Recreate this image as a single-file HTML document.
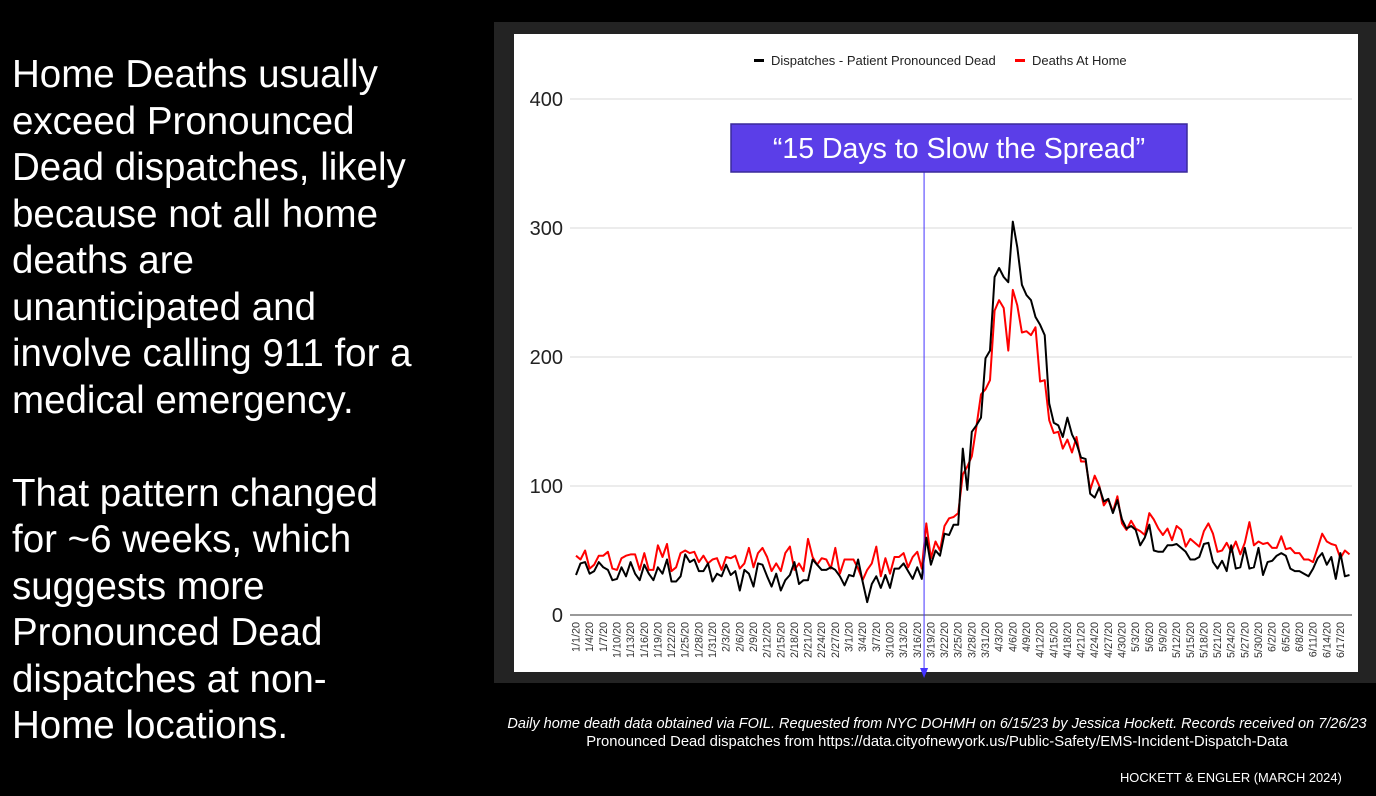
<!DOCTYPE html>
<html><head><meta charset="utf-8"><style>
html,body{margin:0;padding:0;background:#000;width:1376px;height:796px;overflow:hidden;font-family:"Liberation Sans",Arial,sans-serif}
#left{position:absolute;left:12px;top:52px;color:#fff;font-size:38.5px;line-height:46.5px;width:480px;white-space:nowrap}
#panel{position:absolute;left:494px;top:22px;width:882px;height:661px;background:#232323}
#chartsvg{position:absolute;left:0;top:0}
.foot{position:absolute;color:#fff;text-align:center;width:960px;left:457px;white-space:nowrap}
</style></head><body>
<div id="left">Home Deaths usually<br>exceed Pronounced<br>Dead dispatches, likely<br>because not all home<br>deaths are<br>unanticipated and<br>involve calling 911 for a<br>medical emergency.<br><br>That pattern changed<br>for ~6 weeks, which<br>suggests more<br>Pronounced Dead<br>dispatches at non-<br>Home locations.</div>
<div id="panel"></div>
<svg id="chartsvg" width="1376" height="796">
<rect x="514" y="34" width="844" height="638" fill="#fff"/>
<g id="grid"></g><g id="xl"></g><g id="series"></g>
<g>
<rect x="754" y="59" width="10" height="3" fill="#000"/>
<text x="771" y="65" font-size="13" fill="#222">Dispatches - Patient Pronounced Dead</text>
<rect x="1015" y="59" width="10" height="3" fill="#f00"/>
<text x="1032" y="65" font-size="13" fill="#222">Deaths At Home</text>
</g>
<g id="annot"></g>
</svg>
<div class="foot" style="top:716px;font-size:14.5px;font-style:italic">Daily home death data obtained via FOIL. Requested from NYC DOHMH on 6/15/23 by Jessica Hockett. Records received on 7/26/23</div>
<div class="foot" style="top:734px;font-size:14.8px">Pronounced Dead dispatches from https://data.cityofnewyork.us/Public-Safety/EMS-Incident-Dispatch-Data</div>
<div style="position:absolute;left:1120px;top:770px;color:#fff;font-size:12.9px;white-space:nowrap">HOCKETT &amp; ENGLER (MARCH 2024)</div>
<script>
const yTicks=[0,100,200,300,400];
const dispatches=[31,40,41,32,34,41,37,35,27,28,37,30,41,32,27,39,32,27,37,32,43,26,26,30,47,41,43,34,34,40,26,32,30,39,31,34,19,35,32,22,40,39,30,22,32,19,27,31,41,24,27,27,43,39,35,35,37,35,30,23,31,30,43,26,10,24,30,21,31,21,36,36,40,34,28,37,28,
60,39,50,46,63,62,70,70,129,97,142,147,153,199,205,262,269,262,258,305,285,256,248,244,231,225,217,164,149,147,138,153,140,133,122,121,94,91,99,88,90,79,89,74,67,69,66,54,60,70,
50,49,49,54,54,55,52,49,43,43,45,55,56,41,36,42,34,54,36,37,52,36,37,52,31,41,42,46,48,46,36,34,34,32,30,36,44,48,39,45,28,48,30,31];
const homeDeaths=[46,43,50,36,39,46,46,49,36,35,44,46,47,47,35,48,35,35,54,45,55,34,37,48,50,48,49,41,46,40,43,44,35,45,44,46,36,40,52,37,48,52,45,34,40,34,48,53,35,40,34,59,45,39,44,43,36,52,32,43,43,43,36,27,35,40,53,30,44,32,45,45,48,37,45,49,36,
71,44,57,50,69,75,76,79,109,115,123,146,171,175,182,236,244,238,205,252,240,219,220,217,223,181,182,151,141,142,129,136,126,138,119,119,97,108,100,85,90,80,92,71,66,73,67,65,62,79,
74,67,62,67,58,69,66,53,59,56,53,65,71,63,49,50,56,49,57,47,56,72,54,57,55,56,52,52,61,51,52,48,48,43,43,41,52,63,57,55,54,44,50,47];
const startDate=new Date(2020,0,1);
const eventDay=76.5;
const NS='http://www.w3.org/2000/svg';
const X0=576,DX=4.55,Y0=615,YS=1.29;
function xs(i){return X0+i*DX;}
function ys(v){return Y0-v*YS;}
function mk(t,a,p){const e=document.createElementNS(NS,t);for(const k in a)e.setAttribute(k,a[k]);p.appendChild(e);return e;}
const grid=document.getElementById('grid');
yTicks.forEach(v=>{
  const l=mk('line',{x1:570,x2:1352,y1:ys(v),y2:ys(v),stroke:v===0?'#999':'#e0e0e0','stroke-width':v===0?2:1.3},grid);
  
  
  const t=mk('text',{x:563,y:ys(v)+7,'font-size':20,'text-anchor':'end',fill:'#222'},grid);
  t.textContent=v;
  
  
});
const xl=document.getElementById('xl');
for(let i=0;i<dispatches.length;i+=3){
  const d=new Date(startDate.getTime()+i*86400000);
  const lab=(d.getMonth()+1)+'/'+d.getDate()+'/20';
  const x=xs(i)+3.5;
  const t=mk('text',{x:x,y:622,'font-size':10.8,'text-anchor':'end',fill:'#333',transform:'rotate(-90 '+x+' 622)'},xl);
  t.textContent=lab;
  
  
}
const sg=document.getElementById('series');
function line(arr,col,name){
  const p=mk('polyline',{points:arr.map((v,i)=>xs(i).toFixed(1)+','+ys(v).toFixed(1)).join(' '),fill:'none',stroke:col,'stroke-width':2,'stroke-linejoin':'round'},sg);
  
  
}
line(homeDeaths,'#f00','home-deaths-line');
line(dispatches,'#000','dispatches-line');
const an=document.getElementById('annot');
const ex=xs(eventDay);
const vl=mk('line',{x1:ex,x2:ex,y1:172,y2:672,stroke:'#4433ff','stroke-width':1},an);


const ah=mk('polygon',{points:(ex-4)+',668 '+(ex+4)+',668 '+ex+',678',fill:'#4433ff'},an);


const bx=mk('rect',{x:731,y:124,width:456,height:48,fill:'#5b3ee8',stroke:'#3a2a9a','stroke-width':1.5},an);


const bt=mk('text',{x:959,y:158,'font-size':28.5,'text-anchor':'middle',fill:'#fff'},an);
bt.textContent='\u201C15 Days to Slow the Spread\u201D';


</script>
</body></html>
